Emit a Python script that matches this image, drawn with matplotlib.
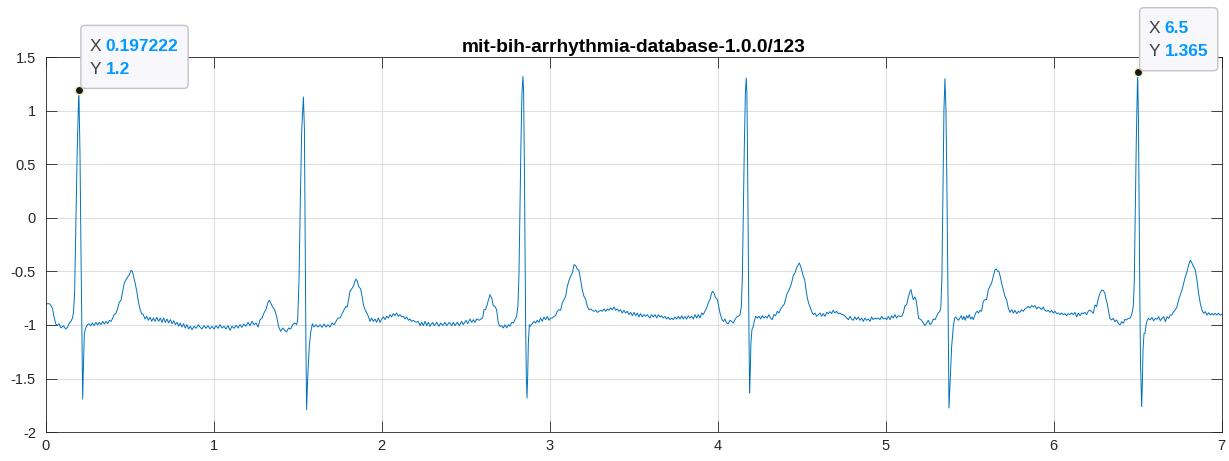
import matplotlib
matplotlib.use("Agg")
import matplotlib.pyplot as plt
import matplotlib.transforms as mtransforms
from matplotlib.patches import FancyBboxPatch

plt.rcParams['font.family'] = ['Liberation Sans', 'DejaVu Sans']

# ECG samples, (time s, amplitude mV), one list per stretch
beat1 = [(0.000, -0.801), (0.022, -0.801), (0.031, -0.819), (0.041, -0.850), (0.049, -0.919),
         (0.059, -0.988), (0.069, -1.006), (0.079, -0.988), (0.091, -1.028), (0.105, -1.006),
         (0.119, -1.037), (0.131, -1.019), (0.141, -0.981), (0.151, -0.963), (0.159, -0.935),
         (0.165, -0.888), (0.172, -0.701), (0.180, -0.016), (0.188, 0.670), (0.197222, 1.2),
         (0.204, 0.607), (0.210, -0.327), (0.216, -1.106), (0.220, -1.692), (0.224, -1.417),
         (0.230, -1.075), (0.238, -1.028), (0.248, -0.997), (0.258, -0.988), (0.268, -1.006),
         (0.278, -0.981), (0.288, -1.006), (0.299, -0.975), (0.309, -1.000), (0.319, -0.975),
         (0.329, -0.997), (0.339, -0.966), (0.349, -0.991), (0.359, -0.966), (0.369, -0.988),
         (0.379, -0.956), (0.389, -0.966), (0.399, -0.935), (0.407, -0.903), (0.417, -0.894),
         (0.426, -0.857), (0.438, -0.788), (0.448, -0.769), (0.458, -0.685), (0.468, -0.607),
         (0.478, -0.576), (0.488, -0.551), (0.498, -0.530), (0.508, -0.489), (0.516, -0.498),
         (0.524, -0.551), (0.532, -0.607), (0.542, -0.685), (0.551, -0.779), (0.561, -0.850),
         (0.571, -0.894), (0.581, -0.903), (0.591, -0.944), (0.601, -0.919), (0.611, -0.956),
         (0.621, -0.928), (0.631, -0.966), (0.641, -0.935), (0.651, -0.966), (0.661, -0.928),
         (0.672, -0.966), (0.682, -0.935), (0.692, -0.975), (0.702, -0.935), (0.712, -0.975),
         (0.722, -0.944), (0.732, -0.981), (0.742, -0.950), (0.752, -0.988), (0.762, -0.960),
         (0.772, -0.997), (0.782, -0.975), (0.792, -1.012), (0.801, -0.981), (0.811, -1.019),
         (0.821, -0.988), (0.831, -1.028), (0.841, -0.997), (0.851, -1.037), (0.861, -1.012),
         (0.871, -1.044), (0.883, -1.012), (0.895, -1.031), (0.909, -0.997)]

beat2 = [(0.918, -1.019), (0.930, -1.037), (0.942, -1.006), (0.954, -1.031), (0.966, -1.006),
         (0.978, -1.037), (0.990, -1.012), (1.002, -1.037), (1.014, -1.006), (1.026, -1.031),
         (1.037, -0.997), (1.049, -1.028), (1.061, -1.012), (1.073, -1.037), (1.085, -1.006),
         (1.097, -1.050), (1.109, -1.012), (1.121, -1.031), (1.133, -1.003), (1.145, -1.028),
         (1.157, -0.997), (1.168, -1.022), (1.180, -0.991), (1.192, -1.012), (1.204, -0.975),
         (1.216, -1.006), (1.228, -0.966), (1.240, -0.997), (1.252, -0.981), (1.264, -1.019),
         (1.276, -0.950), (1.288, -0.935), (1.299, -0.888), (1.311, -0.857), (1.323, -0.788),
         (1.331, -0.769), (1.341, -0.801), (1.351, -0.832), (1.363, -0.857), (1.375, -0.925),
         (1.387, -1.019), (1.399, -1.059), (1.411, -1.028), (1.422, -1.050), (1.434, -1.065),
         (1.446, -1.028), (1.458, -1.037), (1.470, -0.997), (1.482, -0.981), (1.494, -0.997),
         (1.500, -0.950), (1.508, -0.576), (1.516, 0.202), (1.524, 0.826), (1.534, 1.131),
         (1.540, 0.826), (1.545, -0.265), (1.549, -1.199), (1.553, -1.791), (1.559, -1.511),
         (1.569, -1.199), (1.577, -1.075), (1.587, -0.988), (1.597, -1.019), (1.609, -0.997),
         (1.621, -1.019), (1.633, -0.997), (1.645, -1.022), (1.657, -0.991), (1.668, -1.019),
         (1.680, -0.997), (1.692, -1.019), (1.704, -0.981), (1.716, -0.997), (1.728, -0.966),
         (1.740, -0.935)]

beat3 = [(1.752, -0.935), (1.776, -0.857), (1.788, -0.826), (1.795, -0.832), (1.803, -0.763),
         (1.811, -0.685), (1.821, -0.664), (1.831, -0.639), (1.841, -0.592), (1.847, -0.570),
         (1.855, -0.592), (1.863, -0.639), (1.875, -0.664), (1.883, -0.732), (1.891, -0.810),
         (1.901, -0.857), (1.911, -0.888), (1.922, -0.925), (1.930, -0.966), (1.940, -0.935),
         (1.950, -0.966), (1.960, -0.944), (1.970, -0.975), (1.980, -0.935), (1.990, -0.975),
         (2.000, -0.944), (2.010, -0.925), (2.020, -0.950), (2.030, -0.919), (2.040, -0.935),
         (2.049, -0.903), (2.059, -0.925), (2.069, -0.894), (2.079, -0.913), (2.089, -0.888),
         (2.099, -0.919), (2.109, -0.903), (2.119, -0.925), (2.129, -0.919), (2.139, -0.944),
         (2.149, -0.925), (2.159, -0.956), (2.168, -0.944), (2.178, -0.966), (2.188, -0.956),
         (2.204, -0.975), (2.218, -0.966), (2.228, -1.006), (2.238, -0.975), (2.248, -1.006),
         (2.258, -0.966), (2.268, -1.006), (2.278, -0.975), (2.287, -1.012), (2.303, -0.975),
         (2.313, -1.006), (2.327, -0.975), (2.341, -1.012), (2.351, -0.981), (2.363, -1.006),
         (2.377, -0.975), (2.387, -1.006), (2.403, -0.975), (2.416, -1.006), (2.426, -0.975),
         (2.436, -1.006), (2.450, -0.975), (2.462, -1.006), (2.476, -0.966), (2.486, -0.997),
         (2.502, -0.956), (2.512, -0.988), (2.526, -0.944), (2.536, -0.975), (2.546, -0.950),
         (2.555, -0.975), (2.565, -0.944), (2.581, -0.956), (2.595, -0.938), (2.601, -0.935),
         (2.609, -0.857), (2.617, -0.857), (2.625, -0.826), (2.635, -0.769)]

beat4 = [(2.645, -0.717), (2.655, -0.748), (2.664, -0.819), (2.674, -0.826), (2.684, -0.857),
         (2.694, -0.981), (2.704, -1.012), (2.714, -1.006), (2.724, -1.028), (2.734, -0.997),
         (2.744, -1.028), (2.754, -0.997), (2.764, -1.012), (2.774, -0.975), (2.784, -0.981),
         (2.793, -0.950), (2.803, -0.919), (2.811, -0.826), (2.817, -0.545), (2.823, 0.078),
         (2.829, 0.701), (2.835, 1.168), (2.841, 1.324), (2.845, 1.168), (2.849, 0.545),
         (2.853, -0.234), (2.857, -1.012), (2.861, -1.480), (2.865, -1.682), (2.869, -1.480),
         (2.873, -1.168), (2.879, -0.997), (2.885, -1.012), (2.891, -0.997), (2.899, -0.981),
         (2.907, -0.966), (2.916, -0.981), (2.926, -0.956), (2.936, -0.975), (2.946, -0.935),
         (2.956, -0.966), (2.966, -0.925), (2.976, -0.950), (2.986, -0.919), (2.996, -0.956),
         (3.006, -0.935), (3.016, -0.935), (3.026, -0.919), (3.035, -0.913), (3.045, -0.872),
         (3.055, -0.857), (3.065, -0.863), (3.075, -0.794), (3.085, -0.763), (3.095, -0.732),
         (3.105, -0.639), (3.115, -0.583), (3.125, -0.545), (3.135, -0.514), (3.145, -0.436),
         (3.155, -0.445), (3.164, -0.477), (3.174, -0.489), (3.184, -0.576), (3.194, -0.670),
         (3.204, -0.732), (3.214, -0.757), (3.224, -0.826), (3.234, -0.857), (3.244, -0.850),
         (3.254, -0.863), (3.264, -0.872), (3.274, -0.863), (3.284, -0.882), (3.293, -0.872),
         (3.303, -0.863), (3.313, -0.872), (3.323, -0.850), (3.333, -0.872), (3.343, -0.850),
         (3.353, -0.863), (3.363, -0.841), (3.373, -0.857), (3.383, -0.832), (3.393, -0.863),
         (3.402, -0.850), (3.412, -0.872), (3.422, -0.857), (3.432, -0.888), (3.442, -0.863),
         (3.452, -0.888), (3.462, -0.872), (3.472, -0.903), (3.482, -0.882), (3.492, -0.913),
         (3.502, -0.882), (3.512, -0.913), (3.522, -0.888), (3.531, -0.925), (3.541, -0.894),
         (3.551, -0.925), (3.561, -0.903), (3.571, -0.919), (3.581, -0.903)]

beat5 = [(3.597, -0.935), (3.607, -0.903), (3.617, -0.925), (3.627, -0.903), (3.637, -0.935),
         (3.647, -0.903), (3.657, -0.925), (3.666, -0.913), (3.676, -0.935), (3.686, -0.919),
         (3.696, -0.944), (3.706, -0.925), (3.716, -0.950), (3.726, -0.935), (3.736, -0.950),
         (3.746, -0.925), (3.756, -0.944), (3.766, -0.919), (3.776, -0.944), (3.786, -0.913),
         (3.795, -0.944), (3.805, -0.919), (3.815, -0.944), (3.825, -0.913), (3.835, -0.935),
         (3.845, -0.919), (3.855, -0.944), (3.865, -0.903), (3.875, -0.935), (3.885, -0.903),
         (3.895, -0.935), (3.905, -0.888), (3.914, -0.903), (3.924, -0.872), (3.934, -0.841),
         (3.944, -0.794), (3.954, -0.763), (3.964, -0.701), (3.970, -0.685), (3.978, -0.701),
         (3.986, -0.738), (3.998, -0.763), (4.006, -0.826), (4.014, -0.888), (4.024, -0.944),
         (4.034, -0.966), (4.043, -0.944), (4.053, -0.981), (4.063, -0.988), (4.073, -0.956),
         (4.083, -0.966), (4.093, -0.981), (4.103, -0.950), (4.113, -0.925), (4.123, -0.919),
         (4.133, -0.903), (4.141, -0.826), (4.147, -0.545), (4.153, 0.078), (4.159, 0.701),
         (4.165, 1.168), (4.170, 1.308), (4.174, 1.168), (4.178, 0.545), (4.182, -0.234),
         (4.186, -1.012), (4.190, -1.636), (4.194, -1.449), (4.198, -1.168), (4.204, -1.044),
         (4.212, -1.012), (4.218, -0.966), (4.226, -0.919), (4.236, -0.935), (4.246, -0.919),
         (4.256, -0.944), (4.266, -0.913), (4.276, -0.935), (4.286, -0.919), (4.295, -0.935),
         (4.305, -0.903), (4.315, -0.935), (4.325, -0.950), (4.335, -0.903), (4.345, -0.913),
         (4.355, -0.872), (4.365, -0.888), (4.375, -0.850), (4.385, -0.826), (4.395, -0.810),
         (4.405, -0.757), (4.414, -0.701), (4.424, -0.676), (4.434, -0.639)]

beat6 = [(4.440, -0.607), (4.450, -0.539), (4.460, -0.514), (4.470, -0.467), (4.480, -0.436),
         (4.486, -0.421), (4.494, -0.452), (4.502, -0.498), (4.510, -0.545), (4.518, -0.576),
         (4.526, -0.670), (4.534, -0.748), (4.541, -0.794), (4.549, -0.826), (4.559, -0.872),
         (4.569, -0.903), (4.579, -0.888), (4.589, -0.919), (4.599, -0.903), (4.609, -0.888),
         (4.619, -0.919), (4.629, -0.894), (4.639, -0.919), (4.649, -0.882), (4.659, -0.894),
         (4.668, -0.875), (4.678, -0.894), (4.688, -0.863), (4.698, -0.888), (4.708, -0.872),
         (4.718, -0.894), (4.728, -0.888), (4.738, -0.903), (4.748, -0.903), (4.758, -0.919),
         (4.768, -0.935), (4.778, -0.950), (4.788, -0.919), (4.797, -0.944), (4.807, -0.956),
         (4.817, -0.925), (4.827, -0.950), (4.837, -0.925), (4.847, -0.956), (4.857, -0.935),
         (4.867, -0.966), (4.877, -0.935), (4.887, -0.956), (4.897, -0.944), (4.907, -0.966),
         (4.916, -0.925), (4.926, -0.950), (4.936, -0.935), (4.946, -0.944), (4.956, -0.935),
         (4.966, -0.950), (4.976, -0.919), (4.986, -0.944), (4.996, -0.935), (5.006, -0.950),
         (5.016, -0.919), (5.026, -0.950), (5.036, -0.913), (5.045, -0.935), (5.055, -0.903),
         (5.065, -0.935), (5.075, -0.913), (5.085, -0.919), (5.095, -0.919), (5.105, -0.888),
         (5.115, -0.819), (5.125, -0.810), (5.135, -0.738), (5.145, -0.685), (5.151, -0.670),
         (5.159, -0.732), (5.165, -0.763), (5.173, -0.738), (5.181, -0.763), (5.188, -0.841),
         (5.196, -0.935), (5.204, -0.944), (5.214, -0.956), (5.224, -0.981), (5.234, -1.006),
         (5.244, -0.981), (5.254, -0.956), (5.264, -0.997), (5.274, -0.981), (5.284, -0.944),
         (5.294, -0.950), (5.303, -0.919), (5.313, -0.888), (5.323, -0.872), (5.329, -0.826),
         (5.335, -0.545), (5.341, 0.234), (5.347, 1.012), (5.353, 1.302), (5.359, 1.012),
         (5.365, 0.234), (5.371, -0.701)]

beat7 = [(5.377, -1.776), (5.385, -1.480), (5.393, -1.199), (5.403, -1.012), (5.411, -0.935),
         (5.418, -0.925), (5.426, -0.944), (5.434, -0.956), (5.442, -0.935), (5.450, -0.913),
         (5.458, -0.950), (5.466, -0.919), (5.474, -0.956), (5.482, -0.913), (5.490, -0.935),
         (5.498, -0.903), (5.506, -0.944), (5.514, -0.925), (5.522, -0.950), (5.530, -0.913),
         (5.538, -0.882), (5.545, -0.872), (5.553, -0.888), (5.561, -0.863), (5.571, -0.872),
         (5.581, -0.779), (5.591, -0.763), (5.601, -0.763), (5.611, -0.670), (5.621, -0.639),
         (5.631, -0.607), (5.641, -0.545), (5.651, -0.483), (5.659, -0.477), (5.667, -0.498),
         (5.674, -0.498), (5.682, -0.545), (5.690, -0.607), (5.700, -0.670), (5.710, -0.732),
         (5.720, -0.763), (5.730, -0.841), (5.740, -0.882), (5.750, -0.857), (5.760, -0.888),
         (5.770, -0.863), (5.780, -0.894), (5.790, -0.872), (5.799, -0.882), (5.809, -0.857),
         (5.819, -0.872), (5.829, -0.850), (5.839, -0.841), (5.849, -0.826), (5.859, -0.841),
         (5.869, -0.819), (5.879, -0.832), (5.889, -0.819), (5.899, -0.850), (5.909, -0.832),
         (5.919, -0.841), (5.928, -0.857), (5.938, -0.832), (5.948, -0.863), (5.958, -0.872),
         (5.968, -0.863), (5.978, -0.882), (5.988, -0.863), (5.998, -0.888), (6.008, -0.872),
         (6.018, -0.894), (6.028, -0.888), (6.038, -0.903), (6.047, -0.888), (6.057, -0.903),
         (6.067, -0.894), (6.077, -0.913), (6.087, -0.894), (6.097, -0.903), (6.107, -0.888),
         (6.117, -0.903), (6.127, -0.882), (6.137, -0.925), (6.147, -0.888), (6.157, -0.913),
         (6.167, -0.888), (6.176, -0.894), (6.186, -0.882), (6.196, -0.903), (6.206, -0.872)]

beat8 = [(6.216, -0.860), (6.226, -0.875), (6.236, -0.891), (6.246, -0.813), (6.256, -0.829),
         (6.266, -0.751), (6.276, -0.704), (6.286, -0.673), (6.296, -0.679), (6.305, -0.704),
         (6.311, -0.751), (6.319, -0.798), (6.327, -0.875), (6.335, -0.938), (6.345, -0.953),
         (6.355, -0.938), (6.365, -0.969), (6.375, -0.953), (6.385, -0.984), (6.395, -1.000),
         (6.405, -0.969), (6.415, -0.984), (6.424, -0.947), (6.434, -0.953), (6.444, -0.938),
         (6.454, -0.938), (6.464, -0.907), (6.474, -0.829), (6.480, -0.600), (6.486, 0.050),
         (6.492, 0.720), (6.500, 1.365), (6.505, 0.900), (6.509, 0.100), (6.513, -0.700),
         (6.517, -1.350), (6.524, -1.763), (6.528, -1.545), (6.532, -1.234), (6.538, -1.078),
         (6.544, -1.078), (6.550, -1.000), (6.558, -0.953), (6.565, -0.938), (6.575, -0.953),
         (6.585, -0.928), (6.595, -0.960), (6.605, -0.938), (6.615, -0.947), (6.625, -0.922),
         (6.635, -0.960), (6.645, -0.938), (6.655, -0.922), (6.665, -0.969), (6.675, -0.922),
         (6.685, -0.938), (6.694, -0.907), (6.704, -0.907), (6.714, -0.875), (6.724, -0.860),
         (6.734, -0.829), (6.744, -0.766), (6.754, -0.720), (6.764, -0.673), (6.774, -0.611),
         (6.784, -0.548), (6.794, -0.502), (6.804, -0.439), (6.814, -0.393), (6.824, -0.424),
         (6.833, -0.455), (6.843, -0.486), (6.853, -0.579), (6.863, -0.704), (6.873, -0.798),
         (6.883, -0.860), (6.893, -0.891), (6.903, -0.875), (6.913, -0.907), (6.923, -0.885),
         (6.933, -0.907), (6.943, -0.891), (6.952, -0.907), (6.962, -0.891), (6.972, -0.907),
         (6.982, -0.891), (6.992, -0.907), (7.000, -0.900)]

x_ticks = [0, 1, 2, 3, 4, 5, 6, 7]
y_ticks = [-2, -1.5, -1, -0.5, 0, 0.5, 1, 1.5]
y_tick_labels = ['-2', '-1.5', '-1', '-0.5', '0', '0.5', '1', '1.5']
title_text = 'mit-bih-arrhythmia-database-1.0.0/123'

# data tips shown on the chart
tip_x = [0.197222, 6.5]
tip_y = [1.2, 1.365]
tip_x_text = ['0.197222', '6.5']
tip_y_text = ['1.2', '1.365']

points = beat1 + beat2 + beat3 + beat4 + beat5 + beat6 + beat7 + beat8
t = [p[0] for p in points]
ecg = [p[1] for p in points]

fig = plt.figure(figsize=(12.29, 4.61), dpi=100)
ax = fig.add_axes([0.0372, 0.0629, 0.9568, 0.8124])
ax.plot(t, ecg, color='#0072BD', lw=0.7)

ax.set_xlim(0, 7)
ax.set_ylim(-2, 1.5)
ax.set_xticks(x_ticks)
ax.set_yticks(y_ticks)
ax.set_yticklabels(y_tick_labels)
ax.grid(True, color='#dedede', lw=0.8)
ax.set_axisbelow(True)
ax.tick_params(direction='in', length=8, width=0.6, top=True, right=True,
               labelsize=10.5, colors='#262626')
ax.tick_params(axis='x', pad=5)
ax.tick_params(axis='y', pad=7)
for s in ax.spines.values():
    s.set_color('#262626')
    s.set_linewidth(0.6)
ax.set_title(title_text, fontsize=13.8, fontweight='bold', color='#000000', pad=4)

#data tips: box placed in inches relative to the marked point
renderer = fig.canvas.get_renderer()
for xv, yv, xs, ys in zip(tip_x, tip_y, tip_x_text, tip_y_text):
    ax.plot(xv, yv, 'o', color='#1a1a1a', mec='#f3eec0', ms=6, mew=1, zorder=8, clip_on=False)
    tr = fig.dpi_scale_trans + mtransforms.ScaledTranslation(xv, yv, ax.transData)
    texts = []
    for row, (lab, val) in enumerate([('X', xs), ('Y', ys)]):
        dy = 0.433 - row * 0.228
        ax.text(0.105, dy, lab, transform=tr, ha='left', va='center', fontsize=12.5,
                color='#404040', zorder=10, clip_on=False)
        texts.append(ax.text(0.27, dy, val, transform=tr, ha='left', va='center', fontsize=12.5,
                             fontweight='bold', color='#0099ff', zorder=10, clip_on=False))
    px0 = ax.transData.transform((xv, yv))[0]
    right = max(tx.get_window_extent(renderer).x1 for tx in texts)
    w = (right - px0) / fig.dpi + 0.095 - 0.02
    box = FancyBboxPatch((0.02, 0.012), w, 0.63, boxstyle='round,pad=0,rounding_size=0.04',
                         transform=tr, fc='#f8f8fc', ec='#c4c4c4', lw=1, zorder=9, clip_on=False)
    ax.add_patch(box)

plt.savefig('out.png', dpi=100)
